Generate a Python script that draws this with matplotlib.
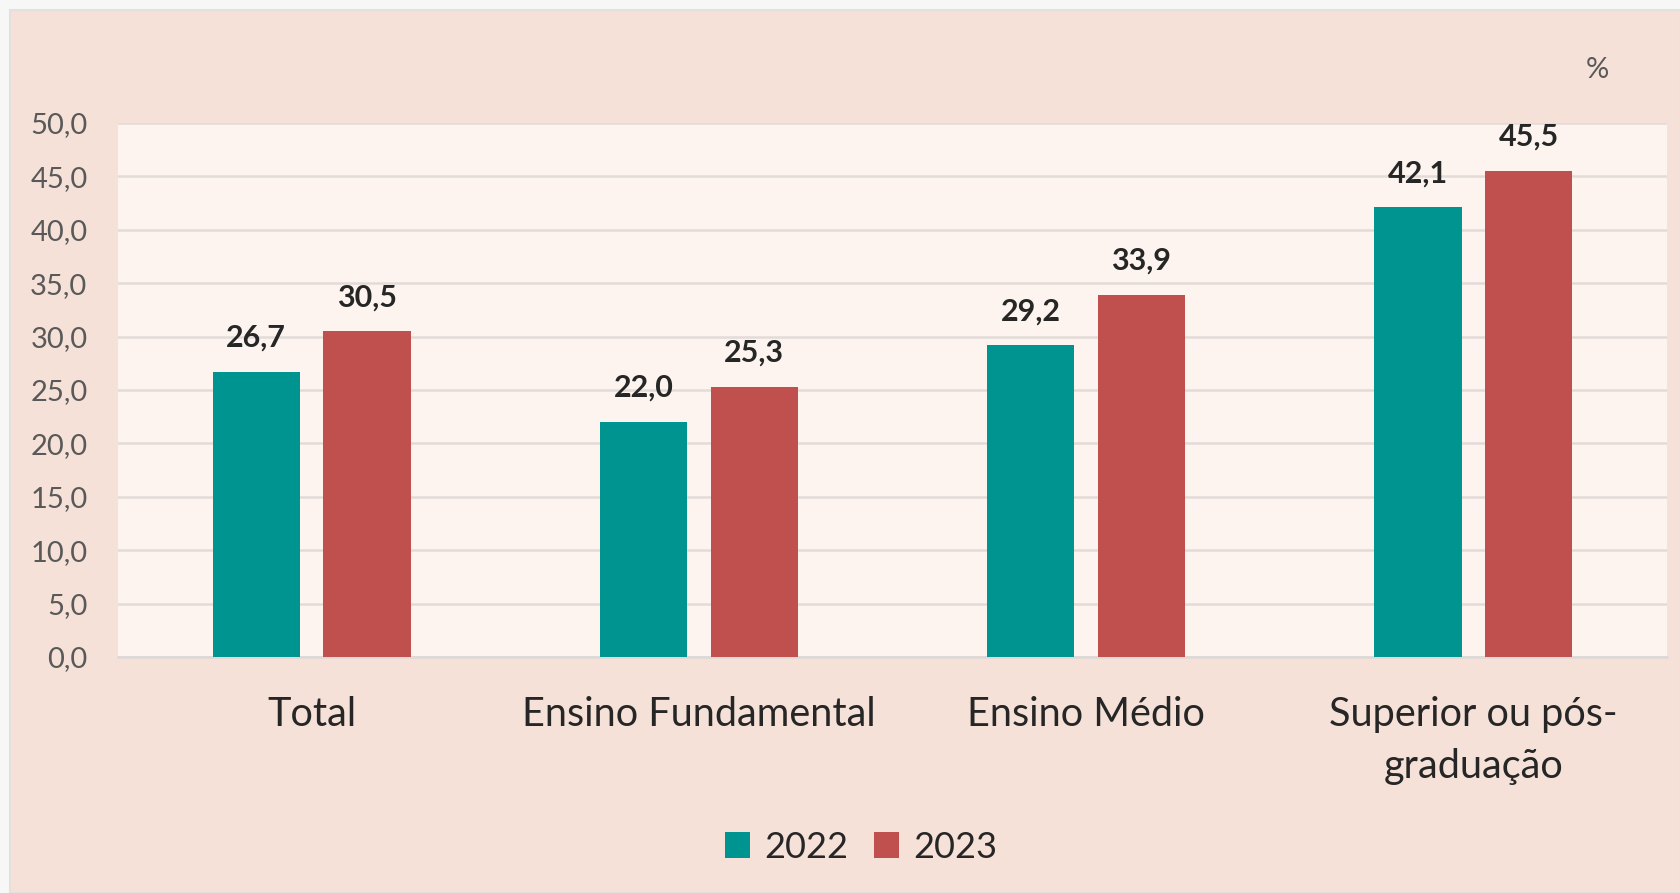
import matplotlib.pyplot as plt
from matplotlib.patches import Rectangle
import numpy as np

categories = ["Total", "Ensino Fundamental", "Ensino Médio", "Superior ou pós-\ngraduação"]
years = ["2022", "2023"]
values_2022 = [26.7, 22.0, 29.2, 42.1]
values_2023 = [30.5, 25.3, 33.9, 45.5]
yticks = [0, 5, 10, 15, 20, 25, 30, 35, 40, 45, 50]

teal = "#009490"
red = "#c0504d"
font = "Lato"

W, H = 1681, 893
fig = plt.figure(figsize=(W / 100, H / 100), dpi=100, facecolor="#f7f7f7")
# pink card behind the chart
card = Rectangle((10 / W, 0), 1 - 10 / W, 1 - 10 / H, transform=fig.transFigure,
                 facecolor="#f5e1d8", edgecolor="#e4e0de", linewidth=1.5, zorder=-10)
fig.add_artist(card)

ax = fig.add_axes([118 / W, 1 - 657 / H, (1667 - 118) / W, (657 - 123) / H])
ax.set_facecolor("#fdf4ef")

x = np.arange(len(categories))
off = 0.143
w = 0.225
b1 = ax.bar(x - off, values_2022, w, color=teal, label=years[0], zorder=3)
b2 = ax.bar(x + off, values_2023, w, color=red, label=years[1], zorder=3)

for bars in (b1, b2):
    for r in bars:
        v = r.get_height()
        ax.annotate(f"{v:.1f}".replace(".", ","), (r.get_x() + r.get_width() / 2, v),
                    xytext=(0, 34), textcoords="offset pixels", ha="center", va="center",
                    fontsize=22, fontweight="bold", color="#262626", family=font)

ax.set_xlim(-0.5, len(categories) - 0.5)
ax.set_ylim(0, 50)
ax.set_yticks(yticks)
ax.set_yticklabels([f"{t:.1f}".replace(".", ",") for t in yticks], fontsize=21, color="#595959", family=font)
ax.set_xticks(x)
ax.set_xticklabels(categories, fontsize=28.5, color="#262626", family=font, linespacing=1.5)
ax.tick_params(axis="both", length=0)
ax.tick_params(axis="y", pad=22)
ax.tick_params(axis="x", pad=28)
ax.grid(axis="y", color="#e2dcd9", linewidth=1.8, zorder=1)
ax.set_axisbelow(True)
for s in ["top", "right", "left"]:
    ax.spines[s].set_visible(False)
ax.spines["bottom"].set_color("#dcd8d6")
ax.spines["bottom"].set_linewidth(1.8)

fig.text(1597 / W, 1 - 70 / H, "%", fontsize=21, color="#595959", family=font, ha="center", va="center")

fig.legend(loc="center", bbox_to_anchor=(861 / W, 1 - 847 / H), ncol=2, frameon=False,
           prop={"family": font, "size": 26}, handlelength=0.7, handleheight=0.7,
           handletextpad=0.4, columnspacing=0.7, labelcolor="#262626")

fig.savefig("out.png", dpi=100, facecolor=fig.get_facecolor())
